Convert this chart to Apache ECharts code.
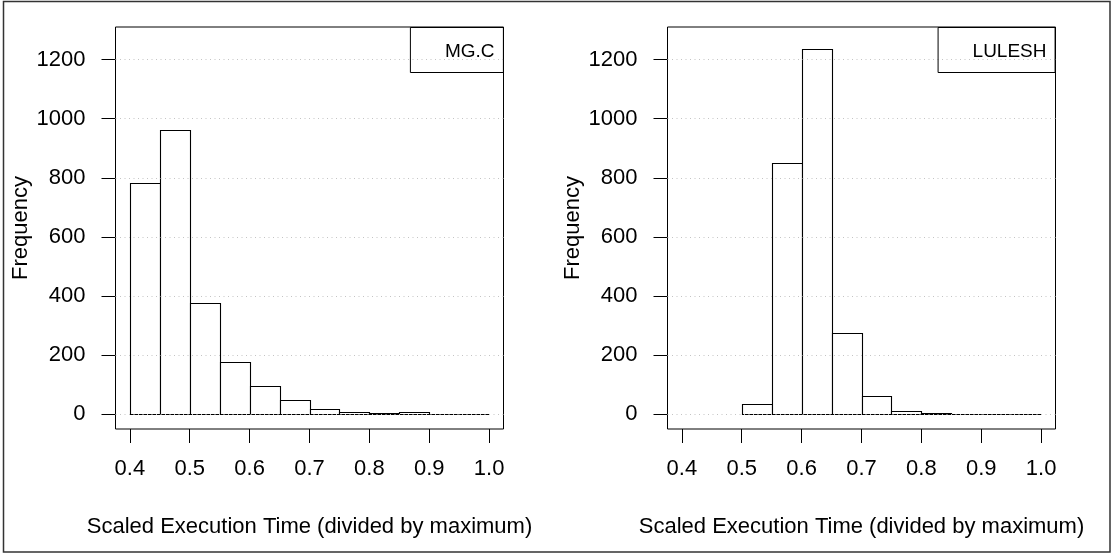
<!DOCTYPE html>
<html>
<head>
<meta charset="utf-8">
<title>Scaled execution time histograms</title>
<script src="https://cdn.jsdelivr.net/npm/echarts@6/dist/echarts.min.js"></script>
<style>
  html, body { margin: 0; padding: 0; background: #fff; }
  #chart { width: 1112px; height: 554px; }
</style>
</head>
<body>
<div id="chart"></div>
<script>
// Histogram bin edges (scaled execution time, divided by maximum)
const mgcBreaks = [0.40, 0.45, 0.50, 0.55, 0.60, 0.65, 0.70, 0.75, 0.80, 0.85, 0.90, 0.95, 1.00];
const mgcCounts = [782, 963, 376, 176, 95, 48, 16, 8, 4, 8, 1, 1];

const luleshBreaks = [0.50, 0.55, 0.60, 0.65, 0.70, 0.75, 0.80, 0.85, 0.90, 0.95, 1.00];
const luleshCounts = [33, 851, 1237, 275, 60, 11, 4, 1, 1, 2];

// Axis ticks
const xTicks = [0.4, 0.5, 0.6, 0.7, 0.8, 0.9, 1.0];
const yTicks = [0, 200, 400, 600, 800, 1000, 1200];

// Panel names
const panelNames = ['MG.C', 'LULESH'];

const FONT = '"Liberation Sans", Arial, Helvetica, sans-serif';
const FONT_SIZE = 22;
const X_RANGE = [0.376, 1.024];
const Y_RANGE = [-50.4, 1310.4];

const chart = echarts.init(document.getElementById('chart'), null, { renderer: 'canvas' });

function makeX(gridIndex) {
  return {
    type: 'value', gridIndex,
    min: X_RANGE[0], max: X_RANGE[1],
    name: 'Scaled Execution Time (divided by maximum)',
    nameLocation: 'middle', nameGap: 87, nameMoveOverlap: false,
    nameTextStyle: { fontSize: FONT_SIZE, color: '#000', fontFamily: FONT },
    axisLine: { show: false, onZero: false },
    axisTick: { show: true, inside: false, length: 14, customValues: xTicks,
                lineStyle: { color: '#000', width: 1 } },
    axisLabel: { show: true, customValues: xTicks, margin: 29,
                 formatter: v => Number(v).toFixed(1),
                 fontSize: FONT_SIZE, color: '#000', fontFamily: FONT },
    splitLine: { show: false }
  };
}

function makeY(gridIndex) {
  return {
    type: 'value', gridIndex,
    min: Y_RANGE[0], max: Y_RANGE[1],
    name: 'Frequency',
    nameLocation: 'middle', nameGap: 84, nameRotate: 90, nameMoveOverlap: false,
    nameTextStyle: { fontSize: FONT_SIZE, color: '#000', fontFamily: FONT },
    axisLine: { show: false, onZero: false },
    axisTick: { show: true, inside: false, length: 14, customValues: yTicks,
                lineStyle: { color: '#000', width: 1 } },
    axisLabel: { show: true, customValues: yTicks, margin: 30,
                 formatter: v => String(Math.round(v)),
                 fontSize: FONT_SIZE, color: '#000', fontFamily: FONT },
    splitLine: { show: false }
  };
}

function histSeries(idx, breaks, counts) {
  return {
    type: 'custom', xAxisIndex: idx, yAxisIndex: idx,
    data: counts.map((c, i) => [breaks[i], breaks[i + 1], c]),
    encode: { x: [0, 1], y: 2 },
    silent: true, z: 2,
    renderItem(params, api) {
      const top = api.coord([api.value(0), api.value(2)]);
      const bot = api.coord([api.value(1), 0]);
      const x0 = Math.round(top[0]) + 0.5;
      const x1 = Math.round(bot[0]) + 0.5;
      const y0 = Math.round(top[1]) + 0.5;
      const y1 = Math.round(bot[1]) + 0.5;
      return {
        type: 'rect',
        shape: { x: x0, y: y0, width: x1 - x0, height: y1 - y0 },
        style: { fill: '#fff', stroke: '#000', lineWidth: 1.1 }
      };
    }
  };
}

// Horizontal dotted reference lines at each y tick
function gridLines(idx) {
  return {
    type: 'line', xAxisIndex: idx, yAxisIndex: idx,
    data: [[X_RANGE[0], 0]], symbol: 'none', silent: true,
    lineStyle: { opacity: 0 }, z: 5,
    markLine: {
      silent: true, symbol: 'none', animation: false,
      label: { show: false },
      lineStyle: { type: [1, 3.5], color: '#c4c4c4', width: 1 },
      emphasis: { disabled: true },
      data: yTicks.map(v => ({ yAxis: v }))
    }
  };
}

function legendBox(text, rightGap) {
  return {
    text, right: rightGap, top: 27,
    padding: [14, 9, 11, 35],
    borderColor: '#000', borderWidth: 1,
    textStyle: { fontSize: 19, fontWeight: 'normal', color: '#000',
                 fontFamily: FONT, lineHeight: 21 }
  };
}

const grids = [
  { left: 115.5, right: 608.5, top: 27, bottom: 125 },
  { left: 667.5, right: 56.5, top: 27, bottom: 125 }
].map(g => Object.assign(g, { show: true, borderColor: '#000', borderWidth: 1,
                               containLabel: false, outerBoundsMode: 'none' }));

chart.setOption({
  animation: false,
  backgroundColor: '#fff',
  grid: grids,
  xAxis: [makeX(0), makeX(1)],
  yAxis: [makeY(0), makeY(1)],
  title: [legendBox(panelNames[0], 608.5), legendBox(panelNames[1], 56.5)],
  series: [
    histSeries(0, mgcBreaks, mgcCounts),
    histSeries(1, luleshBreaks, luleshCounts),
    gridLines(0),
    gridLines(1)
  ],
  graphic: [{
    type: 'rect', silent: true, z: 10,
    shape: { x: 3.5, y: 1.5, width: 1106.5, height: 550.5 },
    style: { fill: 'none', stroke: '#333', lineWidth: 1.5 }
  }]
});
</script>
</body>
</html>
